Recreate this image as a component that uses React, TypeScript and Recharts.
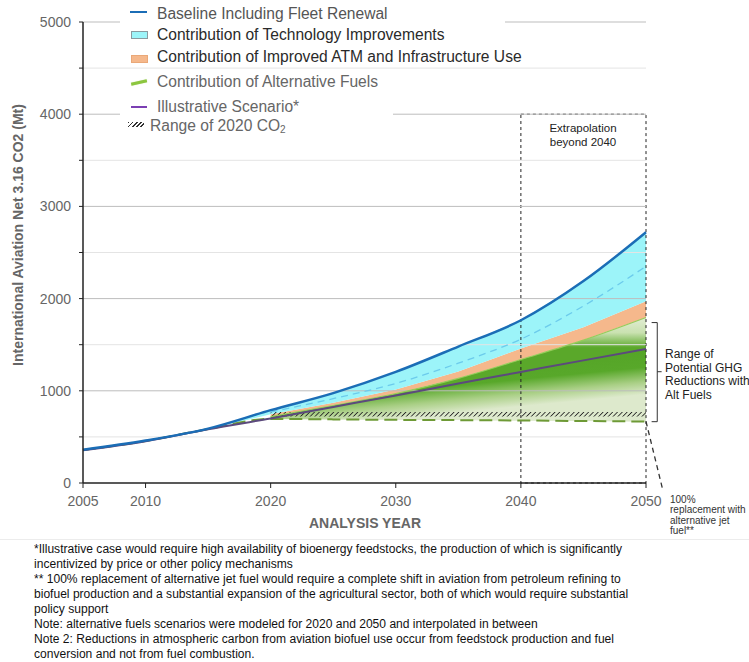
import React from 'react';
import { ComposedChart, Area, Line, XAxis, YAxis, ReferenceLine, ReferenceArea } from 'recharts';

// values (Mt CO2)
const years = [2005, 2010, 2015, 2020, 2025, 2030, 2035, 2040, 2045, 2050];
const baseline = [360, 460, 590, 790, 975, 1205, 1480, 1765, 2190, 2720];
const techDashed = [null, null, null, 770, 915, 1080, 1300, 1560, 1920, 2350];
const techBottom = [352, 452, 584, 745, 870, 1015, 1210, 1460, 1690, 1970];
const atmBottom = [null, null, null, 720, 840, 970, 1135, 1340, 1550, 1795];
const illustrative = [356, 454, 584, 700, 825, 950, 1080, 1205, 1330, 1453];
const fullReplacement = [358, 455, 585, 695, 690, 685, 682, 678, 672, 667];
const co2RangeLow = [null, null, null, 720, 720, 720, 720, 720, 720, 720];
const co2RangeHigh = [null, null, null, 770, 770, 770, 770, 770, 770, 770];

const xTicks = [2005, 2010, 2020, 2030, 2040, 2050];
const yTicks = [0, 500, 1000, 1500, 2000, 2500, 3000, 3500, 4000, 4500, 5000];
const majorGrid = [1000, 2000, 3000, 4000, 5000];
const minorGrid = [500, 1500, 2500, 3500, 4500];

// annotation anchors (data units)
const extrapolationBox = { x1: 2040, x2: 2050, y1: 0, y2: 4000 };
const bracket = { xIn: 2050.45, xOut: 2050.9, xTip: 2051.25, top: 1740, bottom: 665, tip: 1207 };
const pointer = [{ x: 2050, y: 667 }, { x: 2051.35, y: -80 }];

const footnotes = [
  '*Illustrative case would require high availability of bioenergy feedstocks, the production of which is significantly',
  'incentivized by price or other policy mechanisms',
  '** 100% replacement of alternative jet fuel would require a complete shift in aviation from petroleum refining to',
  'biofuel production and a substantial expansion of the agricultural sector, both of which would require substantial',
  'policy support',
  'Note: alternative fuels scenarios were modeled for 2020 and 2050 and interpolated in between',
  'Note 2: Reductions in atmospheric carbon from aviation biofuel use occur from feedstock production and fuel',
  'conversion and not from fuel combustion.',
];

const band = (lo: (number | null)[], hi: (number | null)[], i: number) =>
  lo[i] == null || hi[i] == null ? null : [lo[i], hi[i]];

const altFuelsFloor = atmBottom.map((v, j) => (v == null ? null : fullReplacement[j]));
const altFuelsMid = atmBottom.map((v, j) => (v == null ? null : illustrative[j]));

const rows = years.map((year, i) => ({
  year,
  baseline: baseline[i],
  techDashed: techDashed[i],
  atmTop: atmBottom[i],
  illustrative: illustrative[i],
  fullReplacement: fullReplacement[i],
  tech: band(techBottom, baseline, i),
  atm: band(atmBottom, techBottom, i),
  altFuels: band(altFuelsFloor, atmBottom, i),
  altLow: band(altFuelsFloor, illustrative, i),
  altHigh: band(altFuelsMid, atmBottom, i),
  co2Range: band(co2RangeLow, co2RangeHigh, i),
}));

const FONT = '"Liberation Sans", Arial, sans-serif';

const legendText: React.CSSProperties = {
  position: 'absolute',
  left: 157,
  fontSize: 15.6,
  lineHeight: '18px',
  whiteSpace: 'nowrap',
};

export default function App() {
  return (
    <div style={{ position: 'absolute', left: 0, top: 0, width: 749, height: 662, background: '#fff', fontFamily: FONT, overflow: 'hidden' }}>
      <ComposedChart
        width={749}
        height={540}
        data={rows}
        margin={{ top: 22, right: 103, bottom: 27, left: 33 }}
        style={{ fontFamily: FONT }}
      >
        <defs>
          <pattern id="hatch" patternUnits="userSpaceOnUse" width="3.4" height="3.4" patternTransform="rotate(45)">
            <line x1="0" y1="0" x2="0" y2="3.4" stroke="#262626" strokeWidth="1.7" />
          </pattern>
          <linearGradient id="gradLow" x1="0" y1="0" x2="0.5" y2="1">
            <stop offset="0%" stopColor="#4e9e20" />
            <stop offset="60%" stopColor="#58a82a" />
            <stop offset="76%" stopColor="#a9cf85" />
            <stop offset="90%" stopColor="#dde9cc" />
            <stop offset="100%" stopColor="#dde9cc" />
          </linearGradient>
          <linearGradient id="gradHigh" x1="0" y1="0" x2="0" y2="1">
            <stop offset="0%" stopColor="#e2edd4" />
            <stop offset="15%" stopColor="#c9e1b0" />
            <stop offset="30%" stopColor="#5aa82a" />
            <stop offset="100%" stopColor="#5aa82a" />
          </linearGradient>
        </defs>

        <XAxis
          dataKey="year"
          type="number"
          domain={[2005, 2050]}
          ticks={xTicks}
          tick={{ fill: '#666', fontSize: 14, fontFamily: FONT }}
          tickLine={{ stroke: '#222' }}
          axisLine={{ stroke: '#222', strokeWidth: 1.5 }}
          tickSize={5}
          tickMargin={8}
          height={30}
        />
        <YAxis
          type="number"
          domain={[0, 5000]}
          ticks={yTicks}
          tickFormatter={(v: number) => (v % 1000 === 0 ? String(v) : '')}
          tick={{ fill: '#666', fontSize: 14, fontFamily: FONT }}
          tickLine={{ stroke: '#222' }}
          axisLine={{ stroke: '#222', strokeWidth: 1.5 }}
          tickSize={4}
          tickMargin={8}
          width={50}
        />

        <Area dataKey="altFuels" stroke="none" fill="#dde9cc" fillOpacity={1} isAnimationActive={false} />
        <Area dataKey="altLow" stroke="none" fill="url(#gradLow)" fillOpacity={1} isAnimationActive={false} />
        <Area dataKey="altHigh" stroke="none" fill="url(#gradHigh)" fillOpacity={1} isAnimationActive={false} />
        <Area dataKey="atm" stroke="none" fill="#f5b88c" fillOpacity={1} isAnimationActive={false} />
        <Area dataKey="tech" stroke="none" fill="#9cf4f9" fillOpacity={1} isAnimationActive={false} />
        <Area dataKey="co2Range" stroke="none" fill="url(#hatch)" fillOpacity={1} isAnimationActive={false} />

        {minorGrid.map((v) => (
          <ReferenceLine key={'m' + v} y={v} stroke="#e4e4e4" strokeWidth={1} />
        ))}
        {majorGrid.map((v) => (
          <ReferenceLine key={'M' + v} y={v} stroke="#bdbdbd" strokeWidth={1} />
        ))}

        <Line dataKey="techDashed" type="monotone" stroke="#6ccbec" strokeWidth={1.3} strokeDasharray="7 5" dot={false} isAnimationActive={false} />
        <Line dataKey="atmTop" type="monotone" stroke="#96cc5a" strokeWidth={1.2} dot={false} isAnimationActive={false} />
        <Line dataKey="fullReplacement" type="monotone" stroke="#6e9a36" strokeWidth={2} strokeDasharray="13 6" dot={false} isAnimationActive={false} />
        <Line dataKey="illustrative" type="monotone" stroke="#5c4a7d" strokeWidth={2} dot={false} isAnimationActive={false} />
        <Line dataKey="baseline" type="monotone" stroke="#1b6db6" strokeWidth={2.5} dot={false} isAnimationActive={false} />

        <ReferenceArea {...extrapolationBox} fill="none" fillOpacity={0} stroke="#222" strokeDasharray="3 3" strokeWidth={1} ifOverflow="visible" />

        <ReferenceLine segment={[{ x: bracket.xIn, y: bracket.top }, { x: bracket.xOut, y: bracket.top }]} stroke="#333" ifOverflow="visible" />
        <ReferenceLine segment={[{ x: bracket.xOut, y: bracket.top }, { x: bracket.xOut, y: bracket.bottom }]} stroke="#333" ifOverflow="visible" />
        <ReferenceLine segment={[{ x: bracket.xIn, y: bracket.bottom }, { x: bracket.xOut, y: bracket.bottom }]} stroke="#333" ifOverflow="visible" />
        <ReferenceLine segment={[{ x: bracket.xOut, y: bracket.tip }, { x: bracket.xTip, y: bracket.tip }]} stroke="#333" ifOverflow="visible" />
        <ReferenceLine segment={pointer} stroke="#333" strokeDasharray="5 4" strokeWidth={1.3} ifOverflow="visible" />
      </ComposedChart>

      {/* legend */}
      <div style={{ position: 'absolute', left: 120, top: 0, width: 385, height: 24, background: '#fff' }} />
      <div style={{ position: 'absolute', left: 120, top: 98, width: 273, height: 37, background: '#fff' }} />
      <div style={{ position: 'absolute', left: 130, top: 10.5, width: 17, height: 2.5, background: '#1b6db6' }} />
      <div style={{ ...legendText, top: 5, color: '#555' }}>Baseline Including Fleet Renewal</div>
      <div style={{ position: 'absolute', left: 131, top: 30.5, width: 15, height: 6, background: '#9cf4f9', border: '1px solid #8a9aa0' }} />
      <div style={{ ...legendText, top: 25.5, color: '#2a2a2a' }}>Contribution of Technology Improvements</div>
      <div style={{ position: 'absolute', left: 131, top: 54.5, width: 15, height: 6, background: '#f5b88c', border: '1px solid #eaa878' }} />
      <div style={{ ...legendText, top: 48, color: '#2a2a2a' }}>Contribution of Improved ATM and Infrastructure Use</div>
      <div style={{ position: 'absolute', left: 131, top: 80.5, width: 16, height: 2.5, background: '#8cc63f', transform: 'rotate(-12deg)', boxShadow: '0 0 1px #cfe6b0' }} />
      <div style={{ ...legendText, top: 73, color: '#666' }}>Contribution of Alternative Fuels</div>
      <div style={{ position: 'absolute', left: 131, top: 106, width: 16, height: 1.6, background: '#7b3fb3' }} />
      <div style={{ ...legendText, top: 98, color: '#666' }}>Illustrative Scenario*</div>
      <div style={{ position: 'absolute', left: 128, top: 122, width: 16, height: 5, background: 'repeating-linear-gradient(135deg, #333 0 1.2px, transparent 1.2px 3px)' }} />
      <div style={{ ...legendText, left: 150, top: 117, color: '#666' }}>
        Range of 2020 CO<sub style={{ fontSize: 10, verticalAlign: 'baseline', position: 'relative', top: 2 }}>2</sub>
      </div>

      {/* axis titles */}
      <div style={{ position: 'absolute', left: 18 - 160, top: 235 - 8, width: 320, height: 16, lineHeight: '16px', textAlign: 'center', transform: 'rotate(-90deg)', fontSize: 14, fontWeight: 'bold', color: '#666', whiteSpace: 'nowrap' }}>
        International Aviation Net 3.16 CO2 (Mt)
      </div>
      <div style={{ position: 'absolute', left: 265, top: 515, width: 200, lineHeight: '16px', textAlign: 'center', fontSize: 14, fontWeight: 'bold', color: '#666' }}>
        ANALYSIS YEAR
      </div>

      {/* annotations */}
      <div style={{ position: 'absolute', left: 533, top: 121, width: 100, lineHeight: '14px', textAlign: 'center', fontSize: 11.5, color: '#222' }}>
        Extrapolation<br />beyond 2040
      </div>
      <div style={{ position: 'absolute', left: 665, top: 348, lineHeight: '13.5px', fontSize: 12, color: '#222', whiteSpace: 'nowrap' }}>
        Range of<br />Potential GHG<br />Reductions with<br />Alt Fuels
      </div>
      <div style={{ position: 'absolute', left: 670, top: 494.5, lineHeight: '10.5px', fontSize: 10, color: '#333', whiteSpace: 'nowrap' }}>
        100%<br />replacement with<br />alternative jet<br />fuel**
      </div>

      {/* footnotes */}
      <div style={{ position: 'absolute', left: 0, top: 539, width: 749, height: 1, background: '#ececec' }} />
      <div style={{ position: 'absolute', left: 34, top: 541.5, lineHeight: '15px', fontSize: 12.5, color: '#111', whiteSpace: 'nowrap', transform: 'scaleX(0.965)', transformOrigin: '0 0' }}>
        {footnotes.map((t, i) => (
          <div key={i}>{t}</div>
        ))}
      </div>
    </div>
  );
}
